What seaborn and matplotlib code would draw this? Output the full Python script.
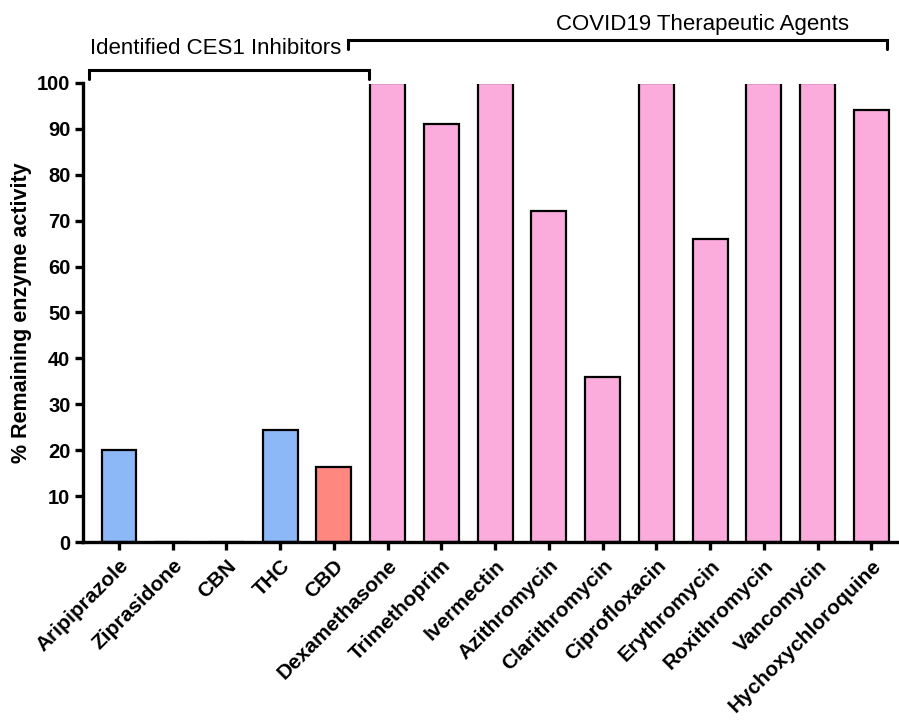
import matplotlib
matplotlib.use("Agg")
import matplotlib.pyplot as plt
from matplotlib.transforms import Bbox, TransformedBbox
import seaborn as sns
import pandas as pd

# Compounds tested and remaining enzyme activity (%)
compounds = ["Aripiprazole", "Ziprasidone", "CBN", "THC", "CBD",
             "Dexamethasone", "Trimethoprim", "Ivermectin", "Azithromycin",
             "Clarithromycin", "Ciprofloxacin", "Erythromycin", "Roxithromycin",
             "Vancomycin", "Hychoxychloroquine"]
activity = [20, 0, 0, 24.4, 16.4,
            100, 91, 100, 72,
            36, 100, 66, 100,
            100, 94]
bar_colors = ["#8cb8f8", "#8cb8f8", "#8cb8f8", "#8cb8f8", "#fe8780",
              "#fbabdc", "#fbabdc", "#fbabdc", "#fbabdc",
              "#fbabdc", "#fbabdc", "#fbabdc", "#fbabdc",
              "#fbabdc", "#fbabdc"]
y_ticks = [0, 10, 20, 30, 40, 50, 60, 70, 80, 90, 100]
group_labels = ["Identified CES1 Inhibitors", "COVID19 Therapeutic Agents"]

sns.set_style("ticks")
plt.rcParams["font.family"] = ["Liberation Sans", "DejaVu Sans"]
plt.rcParams["text.color"] = "black"
plt.rcParams["axes.labelcolor"] = "black"
plt.rcParams["xtick.color"] = "black"
plt.rcParams["ytick.color"] = "black"
plt.rcParams["axes.edgecolor"] = "black"

df = pd.DataFrame({"compound": compounds, "activity": activity})

fig = plt.figure(figsize=(8.99, 7.2), dpi=100)
ax = fig.add_axes([0.0923, 0.247, 0.905, 0.638])

sns.barplot(data=df, x="compound", y="activity", hue="compound",
            palette=bar_colors, legend=False, width=0.65, saturation=1,
            edgecolor="black", linewidth=1.6, ax=ax)

# bars reaching the top of the scale run off the plot area
clip = TransformedBbox(Bbox([[0, 0], [1, 0.997]]), ax.transAxes)
for patch in ax.patches:
    patch.set_clip_box(clip)

ax.set_ylim(0, 100)
ax.set_xlim(-0.67, 14.47)
ax.set_yticks(y_ticks)
ax.set_yticklabels([str(v) for v in y_ticks], fontsize=14.5, fontweight="bold")
ax.set_xticks(range(len(compounds)))
ax.set_xticklabels(compounds, rotation=45, ha="right", rotation_mode="anchor",
                   fontsize=15, fontweight="bold")
ax.set_xlabel("")
ax.set_ylabel("% Remaining enzyme activity", fontsize=15.5, fontweight="bold",
              labelpad=4)

for side in ("top", "right"):
    ax.spines[side].set_visible(False)
for side in ("left", "bottom"):
    ax.spines[side].set_linewidth(2.4)
    ax.spines[side].set_zorder(5)
ax.tick_params(axis="both", direction="out", length=6, width=2.4, pad=3)
ax.tick_params(axis="x", pad=4)

# Group brackets above the bars
def bracket(x0, x1, y, drop, label, lx, ly):
    ax.plot([x0, x0, x1, x1], [y - drop, y, y, y - drop], color="black",
            lw=2.2, clip_on=False, solid_joinstyle="miter")
    ax.text(lx, ly, label, ha="center", va="center", fontsize=16,
            clip_on=False)

bracket(-0.56, 4.65, 102.8, 2.0, group_labels[0], 1.8, 107.4)
bracket(4.26, 14.3, 109.4, 2.0, group_labels[1], 10.85, 112.8)

fig.savefig("out.png", dpi=100)
